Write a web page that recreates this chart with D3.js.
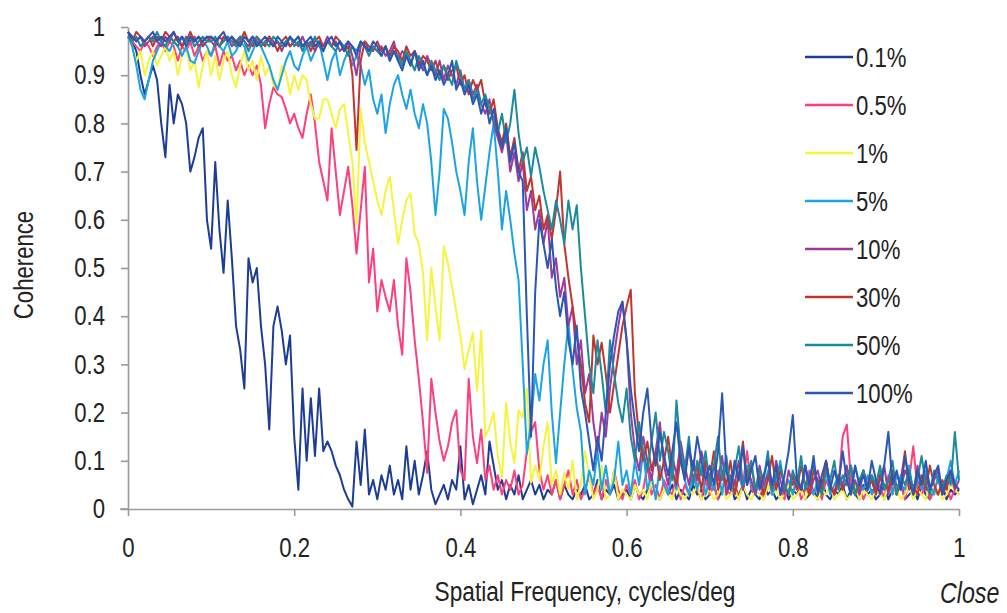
<!DOCTYPE html>
<html>
<head>
<meta charset="utf-8">
<script src="https://cdn.jsdelivr.net/npm/d3@7"></script>
<style>
  html, body { margin: 0; padding: 0; background: #fff; }
  svg text { font-family: "Liberation Sans", Arial, sans-serif; fill: #222; }
</style>
</head>
<body>
<svg id="chart" width="1007" height="613"></svg>
<script>
// coherence vs spatial frequency, one sample every 0.005 cycles/deg (0 .. 1)
const xStep = 0.005;

const labels = ["0.1%", "0.5%", "1%", "5%", "10%", "30%", "50%", "100%"];
const colors = ["#1d3c96", "#ff3f7c", "#f6f43e", "#1ba3e3", "#9b3c9c", "#c2352f", "#1b8b9b", "#2a56b6"];

const yTicks = [0, 0.1, 0.2, 0.3, 0.4, 0.5, 0.6, 0.7, 0.8, 0.9, 1];
const xTicks = [0, 0.2, 0.4, 0.6, 0.8, 1];

const c01 = [
  0.99,0.97,0.95,0.90,0.86,0.89,0.92,0.89,0.80,0.73,0.88,0.80,0.86,0.84,0.80,0.70,0.73,0.77,0.79,0.60,
  0.54,0.72,0.58,0.49,0.64,0.52,0.38,0.33,0.25,0.52,0.47,0.50,0.38,0.30,0.165,0.38,0.42,0.37,0.30,0.36,
  0.15,0.04,0.25,0.10,0.23,0.11,0.25,0.12,0.14,0.12,0.09,0.07,0.04,0.02,0.005,0.14,0.05,0.165,0.03,0.06,
  0.02,0.07,0.04,0.09,0.03,0.06,0.02,0.13,0.04,0.10,0.03,0.07,0.12,0.04,0.01,0.03,0.05,0.02,0.06,0.04,
  0.13,0.02,0.05,0.01,0.04,0.07,0.03,0.14,0.09,0.04,0.06,0.02,0.05,0.03,0.07,0.02,0.04,0.06,0.03,0.05,
  0.02,0.04,0.03,0.06,0.02,0.05,0.03,0.02,0.04,0.03,0.05,0.02,0.03,0.06,0.02,0.04,0.03,0.05,0.02,0.03,
  0.04,0.02,0.05,0.03,0.02,0.04,0.06,0.03,0.02,0.04,0.03,0.05,0.02,0.04,0.03,0.02,0.05,0.03,0.04,0.02,
  0.03,0.05,0.02,0.04,0.03,0.06,0.02,0.03,0.05,0.02,0.04,0.03,0.02,0.05,0.03,0.04,0.02,0.03,0.05,0.02,
  0.04,0.03,0.05,0.02,0.03,0.04,0.02,0.06,0.03,0.02,0.04,0.03,0.05,0.02,0.04,0.03,0.02,0.05,0.03,0.04,
  0.02,0.03,0.05,0.02,0.04,0.03,0.06,0.02,0.03,0.04,0.02,0.05,0.03,0.02,0.04,0.03,0.05,0.02,0.04,0.03,
  0.04
];

const c05 = [
  0.98,0.97,0.96,0.95,0.97,0.96,0.94,0.96,0.97,0.95,0.97,0.96,0.93,0.96,0.95,0.97,0.94,0.96,0.93,0.95,
  0.94,0.96,0.92,0.95,0.93,0.94,0.91,0.93,0.90,0.92,0.90,0.92,0.88,0.79,0.84,0.875,0.86,0.855,0.83,0.80,
  0.82,0.79,0.77,0.82,0.86,0.80,0.72,0.68,0.64,0.79,0.70,0.61,0.66,0.71,0.63,0.53,0.62,0.71,0.47,0.54,
  0.41,0.475,0.44,0.41,0.475,0.38,0.32,0.52,0.45,0.35,0.27,0.18,0.075,0.27,0.20,0.14,0.10,0.13,0.18,0.205,
  0.08,0.06,0.27,0.15,0.095,0.165,0.06,0.09,0.04,0.07,0.03,0.06,0.04,0.08,0.03,0.05,0.12,0.16,0.18,0.08,
  0.04,0.07,0.03,0.06,0.02,0.05,0.08,0.03,0.06,0.02,0.04,0.07,0.03,0.05,0.02,0.06,0.03,0.08,0.04,0.02,
  0.05,0.03,0.06,0.02,0.04,0.09,0.03,0.05,0.02,0.06,0.04,0.03,0.07,0.02,0.05,0.03,0.10,0.04,0.02,0.06,
  0.03,0.05,0.02,0.08,0.04,0.03,0.06,0.02,0.05,0.12,0.04,0.03,0.06,0.02,0.05,0.03,0.07,0.04,0.02,0.05,
  0.03,0.06,0.02,0.04,0.08,0.03,0.05,0.02,0.06,0.04,0.03,0.05,0.15,0.175,0.06,0.03,0.05,0.02,0.04,0.06,
  0.03,0.05,0.02,0.07,0.04,0.03,0.05,0.02,0.06,0.13,0.04,0.03,0.05,0.02,0.04,0.06,0.03,0.05,0.02,0.04,
  0.03
];

const c1 = [
  0.98,0.96,0.93,0.95,0.90,0.93,0.95,0.92,0.94,0.96,0.93,0.95,0.90,0.94,0.96,0.91,0.93,0.875,0.92,0.95,
  0.90,0.94,0.89,0.93,0.95,0.90,0.875,0.92,0.95,0.91,0.93,0.89,0.94,0.90,0.92,0.88,0.87,0.92,0.905,0.86,
  0.90,0.87,0.90,0.89,0.84,0.81,0.81,0.85,0.85,0.82,0.79,0.83,0.84,0.78,0.72,0.59,0.83,0.76,0.72,0.68,
  0.64,0.61,0.66,0.69,0.62,0.55,0.60,0.64,0.655,0.57,0.55,0.49,0.35,0.50,0.42,0.35,0.545,0.51,0.46,0.41,
  0.36,0.29,0.33,0.365,0.245,0.37,0.15,0.17,0.20,0.11,0.065,0.22,0.14,0.095,0.205,0.19,0.25,0.055,0.09,0.06,
  0.13,0.18,0.05,0.08,0.03,0.075,0.04,0.10,0.02,0.05,0.12,0.07,0.02,0.04,0.09,0.02,0.03,0.08,0.02,0.04,
  0.03,0.02,0.05,0.03,0.04,0.02,0.06,0.03,0.02,0.04,0.03,0.02,0.05,0.03,0.02,0.04,0.03,0.05,0.02,0.03,
  0.04,0.02,0.03,0.05,0.02,0.03,0.04,0.02,0.05,0.03,0.02,0.04,0.03,0.02,0.05,0.03,0.04,0.02,0.03,0.05,
  0.02,0.03,0.04,0.02,0.05,0.03,0.02,0.04,0.03,0.05,0.02,0.03,0.04,0.02,0.03,0.05,0.02,0.04,0.03,0.02,
  0.04,0.03,0.02,0.05,0.03,0.04,0.02,0.03,0.05,0.02,0.04,0.03,0.02,0.05,0.03,0.04,0.02,0.03,0.05,0.04,
  0.03
];

const c5 = [
  0.98,0.96,0.92,0.87,0.85,0.89,0.93,0.95,0.97,0.96,0.95,0.97,0.96,0.94,0.96,0.93,0.925,0.95,0.97,0.96,
  0.94,0.97,0.96,0.95,0.97,0.94,0.95,0.97,0.96,0.93,0.95,0.97,0.96,0.94,0.92,0.89,0.87,0.90,0.93,0.95,
  0.92,0.91,0.94,0.96,0.93,0.95,0.97,0.93,0.89,0.93,0.95,0.90,0.93,0.95,0.92,0.94,0.92,0.88,0.91,0.85,
  0.82,0.86,0.78,0.84,0.88,0.90,0.86,0.83,0.87,0.82,0.79,0.84,0.80,0.72,0.61,0.70,0.83,0.81,0.76,0.70,
  0.66,0.61,0.72,0.79,0.68,0.60,0.67,0.74,0.80,0.70,0.58,0.66,0.60,0.53,0.475,0.30,0.115,0.18,0.28,0.225,
  0.30,0.35,0.20,0.095,0.20,0.30,0.385,0.29,0.21,0.16,0.03,0.08,0.05,0.12,0.04,0.09,0.03,0.06,0.14,0.05,
  0.08,0.03,0.10,0.05,0.12,0.04,0.07,0.02,0.09,0.05,0.03,0.08,0.04,0.11,0.06,0.03,0.07,0.04,0.09,0.03,
  0.06,0.04,0.08,0.03,0.10,0.05,0.03,0.07,0.04,0.09,0.05,0.03,0.06,0.04,0.08,0.03,0.05,0.10,0.04,0.06,
  0.03,0.07,0.04,0.09,0.05,0.03,0.06,0.04,0.08,0.03,0.05,0.07,0.04,0.06,0.03,0.09,0.05,0.04,0.07,0.03,
  0.05,0.08,0.04,0.06,0.03,0.07,0.05,0.04,0.09,0.03,0.06,0.04,0.08,0.05,0.03,0.07,0.04,0.06,0.10,0.05,
  0.08
];

const c10 = [
  0.99,0.98,0.97,0.98,0.96,0.97,0.98,0.97,0.96,0.98,0.97,0.99,0.97,0.96,0.98,0.97,0.98,0.96,0.97,0.98,
  0.97,0.96,0.98,0.97,0.98,0.96,0.97,0.98,0.97,0.96,0.98,0.97,0.96,0.97,0.98,0.96,0.97,0.95,0.97,0.96,
  0.97,0.96,0.98,0.96,0.97,0.95,0.97,0.96,0.98,0.96,0.97,0.95,0.96,0.97,0.94,0.90,0.96,0.97,0.95,0.96,
  0.95,0.96,0.94,0.95,0.97,0.93,0.95,0.94,0.92,0.95,0.93,0.91,0.94,0.92,0.90,0.93,0.89,0.92,0.90,0.88,
  0.91,0.87,0.89,0.86,0.88,0.84,0.82,0.85,0.80,0.77,0.74,0.78,0.70,0.74,0.68,0.72,0.62,0.66,0.58,0.62,
  0.55,0.60,0.48,0.52,0.44,0.48,0.38,0.42,0.30,0.35,0.24,0.28,0.18,0.12,0.20,0.15,0.25,0.32,0.38,0.43,
  0.35,0.20,0.12,0.08,0.15,0.10,0.06,0.12,0.18,0.09,0.05,0.11,0.07,0.14,0.09,0.05,0.10,0.06,0.12,0.08,
  0.04,0.09,0.06,0.11,0.03,0.07,0.05,0.10,0.04,0.08,0.06,0.03,0.09,0.05,0.07,0.04,0.10,0.06,0.03,0.08,
  0.05,0.07,0.04,0.09,0.03,0.06,0.08,0.04,0.10,0.05,0.03,0.07,0.05,0.09,0.04,0.06,0.03,0.08,0.05,0.07,
  0.04,0.06,0.09,0.03,0.07,0.05,0.04,0.08,0.06,0.03,0.09,0.05,0.07,0.04,0.06,0.08,0.03,0.05,0.07,0.04,
  0.06
];

const c30 = [
  0.98,0.97,0.99,0.98,0.97,0.98,0.96,0.98,0.97,0.99,0.98,0.97,0.98,0.96,0.97,0.99,0.97,0.98,0.96,0.97,
  0.98,0.97,0.96,0.98,0.97,0.98,0.96,0.97,0.99,0.97,0.96,0.98,0.97,0.96,0.98,0.97,0.95,0.97,0.98,0.96,
  0.97,0.98,0.96,0.97,0.95,0.97,0.98,0.96,0.97,0.96,0.98,0.97,0.95,0.96,0.90,0.745,0.93,0.97,0.96,0.95,
  0.97,0.95,0.96,0.94,0.96,0.95,0.93,0.96,0.94,0.95,0.92,0.94,0.93,0.91,0.93,0.90,0.92,0.89,0.91,0.92,
  0.88,0.90,0.86,0.89,0.87,0.89,0.84,0.82,0.85,0.79,0.76,0.80,0.73,0.77,0.70,0.74,0.66,0.69,0.62,0.65,
  0.58,0.61,0.56,0.62,0.70,0.55,0.48,0.42,0.36,0.30,0.22,0.18,0.36,0.30,0.345,0.28,0.20,0.26,0.32,0.38,
  0.42,0.455,0.24,0.15,0.10,0.14,0.08,0.12,0.06,0.10,0.15,0.08,0.05,0.11,0.07,0.13,0.06,0.09,0.04,0.10,
  0.06,0.12,0.04,0.08,0.05,0.10,0.03,0.07,0.14,0.05,0.09,0.04,0.07,0.03,0.06,0.11,0.04,0.08,0.05,0.03,
  0.07,0.04,0.09,0.05,0.03,0.08,0.06,0.04,0.10,0.05,0.03,0.07,0.04,0.06,0.09,0.03,0.05,0.08,0.04,0.06,
  0.03,0.07,0.05,0.04,0.08,0.03,0.06,0.12,0.04,0.05,0.03,0.07,0.04,0.09,0.05,0.03,0.06,0.04,0.08,0.05,
  0.04
];

const c50 = [
  0.98,0.97,0.98,0.96,0.97,0.98,0.97,0.99,0.97,0.96,0.98,0.97,0.96,0.98,0.97,0.98,0.96,0.97,0.98,0.97,
  0.97,0.98,0.96,0.97,0.98,0.97,0.96,0.98,0.97,0.95,0.97,0.98,0.96,0.97,0.96,0.98,0.97,0.96,0.97,0.98,
  0.96,0.97,0.95,0.97,0.96,0.98,0.96,0.95,0.97,0.96,0.95,0.97,0.96,0.94,0.96,0.95,0.97,0.96,0.94,0.96,
  0.95,0.94,0.96,0.93,0.95,0.94,0.92,0.95,0.93,0.91,0.94,0.92,0.90,0.93,0.91,0.89,0.92,0.90,0.88,0.93,
  0.90,0.87,0.89,0.85,0.87,0.84,0.86,0.83,0.81,0.78,0.82,0.76,0.80,0.87,0.78,0.72,0.75,0.69,0.75,0.71,
  0.66,0.62,0.58,0.64,0.60,0.55,0.64,0.58,0.63,0.50,0.40,0.30,0.24,0.35,0.28,0.20,0.35,0.28,0.22,0.18,
  0.25,0.15,0.10,0.18,0.12,0.08,0.14,0.20,0.10,0.16,0.12,0.06,0.225,0.12,0.08,0.15,0.05,0.10,0.07,0.12,
  0.05,0.09,0.15,0.06,0.11,0.04,0.08,0.13,0.05,0.07,0.10,0.04,0.08,0.06,0.12,0.04,0.07,0.09,0.05,0.03,
  0.08,0.05,0.11,0.04,0.07,0.09,0.05,0.03,0.08,0.06,0.10,0.04,0.07,0.05,0.09,0.03,0.06,0.08,0.04,0.07,
  0.05,0.09,0.04,0.06,0.10,0.03,0.07,0.05,0.08,0.04,0.06,0.11,0.05,0.03,0.08,0.06,0.04,0.07,0.05,0.16,
  0.06
];

const c100 = [
  0.99,0.98,0.97,0.98,0.97,0.98,0.99,0.97,0.98,0.97,0.98,0.99,0.97,0.98,0.96,0.98,0.97,0.98,0.97,0.98,
  0.98,0.97,0.98,0.99,0.97,0.98,0.97,0.96,0.98,0.97,0.98,0.96,0.97,0.98,0.97,0.96,0.98,0.97,0.96,0.98,
  0.97,0.98,0.96,0.97,0.98,0.96,0.97,0.95,0.97,0.98,0.96,0.97,0.95,0.97,0.96,0.94,0.97,0.96,0.95,0.97,
  0.96,0.94,0.96,0.93,0.95,0.93,0.91,0.94,0.92,0.95,0.91,0.93,0.90,0.92,0.89,0.91,0.88,0.90,0.93,0.87,
  0.89,0.86,0.88,0.84,0.86,0.82,0.85,0.80,0.83,0.78,0.75,0.79,0.72,0.76,0.70,0.68,0.40,0.15,0.45,0.60,
  0.55,0.50,0.56,0.46,0.40,0.45,0.35,0.30,0.38,0.25,0.20,0.14,0.08,0.15,0.10,0.20,0.30,0.36,0.41,0.43,
  0.35,0.25,0.18,0.12,0.20,0.25,0.14,0.09,0.16,0.11,0.07,0.12,0.18,0.10,0.06,0.13,0.08,0.15,0.10,0.06,
  0.09,0.05,0.12,0.24,0.08,0.04,0.10,0.06,0.13,0.05,0.08,0.11,0.04,0.07,0.10,0.05,0.09,0.03,0.07,0.12,
  0.195,0.06,0.04,0.09,0.05,0.11,0.03,0.07,0.10,0.04,0.08,0.05,0.12,0.06,0.03,0.09,0.05,0.07,0.04,0.10,
  0.06,0.03,0.09,0.16,0.05,0.08,0.04,0.11,0.06,0.03,0.08,0.05,0.10,0.04,0.07,0.09,0.03,0.06,0.08,0.05,
  0.04
];

const seriesValues = [c01, c05, c1, c5, c10, c30, c50, c100];

const series = labels.map((name, k) => ({ name, color: colors[k], values: seriesValues[k] }));

const svg = d3.select("#chart");

const x = d3.scaleLinear().domain([0, 1]).range([128, 959]);
const y = d3.scaleLinear().domain([0, 1]).range([509, 27]);

const fmt = d => String(+d.toFixed(1));

// y axis
const yAxis = svg.append("g")
  .attr("transform", `translate(${x(0)},0)`)
  .call(d3.axisLeft(y).tickValues(yTicks).tickFormat(fmt).tickSize(7).tickSizeOuter(0).tickPadding(16));

// x axis
const xAxis = svg.append("g")
  .attr("transform", `translate(0,${y(0)})`)
  .call(d3.axisBottom(x).tickValues(xTicks).tickFormat(fmt).tickSize(7).tickSizeOuter(0).tickPadding(22));

[yAxis, xAxis].forEach(a => {
  a.select(".domain").attr("stroke", "#9a9a9a").attr("stroke-width", 1.6);
  a.selectAll(".tick line").attr("stroke", "#9a9a9a").attr("stroke-width", 1.6);
  a.selectAll(".tick text").attr("font-size", 27).attr("fill", "#222")
    .style("font-family", '"Liberation Sans", Arial, sans-serif');
});

// x axis line reaches past the y axis, like the original
svg.append("line")
  .attr("x1", x(0) - 8).attr("x2", x(0))
  .attr("y1", y(0)).attr("y2", y(0))
  .attr("stroke", "#9a9a9a").attr("stroke-width", 1.6);

const line = d3.line()
  .x((d, i) => x(i * xStep))
  .y(d => y(d));

svg.append("g")
  .selectAll("path")
  .data(series)
  .enter()
  .append("path")
  .attr("d", d => line(d.values))
  .attr("fill", "none")
  .attr("stroke", d => d.color)
  .attr("stroke-width", 2)
  .attr("stroke-linejoin", "round");

// legend
const legend = svg.append("g");
series.forEach((s, k) => {
  const ly = 57 + k * 48;
  legend.append("line")
    .attr("x1", 805).attr("x2", 853)
    .attr("y1", ly).attr("y2", ly)
    .attr("stroke", s.color)
    .attr("stroke-width", 2.5);
  legend.append("text")
    .attr("x", 856)
    .attr("y", ly)
    .attr("dy", "0.36em")
    .attr("font-size", 27)
    .text(s.name);
});

// axis titles
svg.append("text")
  .attr("x", 585)
  .attr("y", 601)
  .attr("text-anchor", "middle")
  .attr("font-size", 27)
  .attr("class", "wide")
  .text("Spatial Frequency, cycles/deg");

svg.append("text")
  .attr("transform", "translate(33,265) rotate(-90)")
  .attr("text-anchor", "middle")
  .attr("font-size", 27)
  .text("Coherence");

// the original uses a narrow face: squeeze every label horizontally
svg.selectAll("text").each(function () {
  const w = this.getComputedTextLength();
  const k = this.classList.contains("wide") ? 0.84 : 0.82;
  d3.select(this)
    .attr("textLength", w * k)
    .attr("lengthAdjust", "spacingAndGlyphs");
});

// corner note, squeezed with a transform so its box stays inside the page
svg.append("text")
  .attr("transform", "translate(940,603) scale(0.8,1)")
  .attr("font-size", 29)
  .attr("font-style", "italic")
  .text("Close");
</script>
</body>
</html>
